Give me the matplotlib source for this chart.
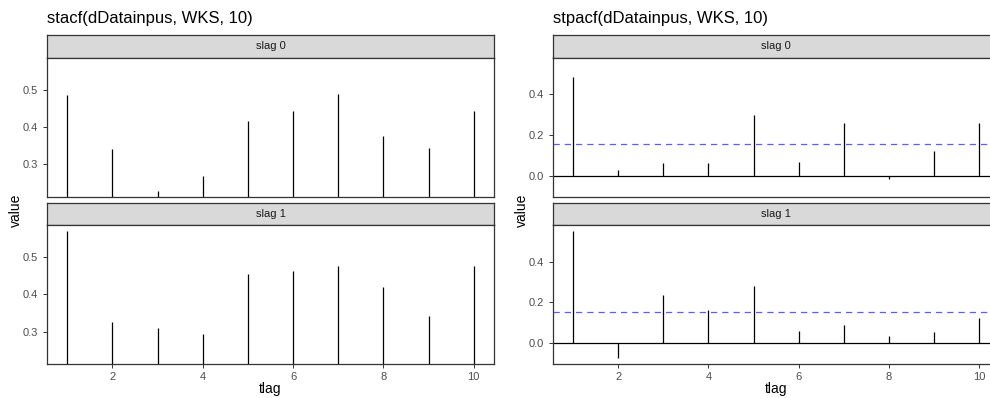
import matplotlib
matplotlib.use("Agg")
import matplotlib.pyplot as plt

plt.rcParams['font.family'] = ['Liberation Sans', 'DejaVu Sans']

# data
lags = [1, 2, 3, 4, 5, 6, 7, 8, 9, 10]
acf_slag0 = [0.485, 0.342, 0.230, 0.270, 0.417, 0.444, 0.488, 0.375, 0.345, 0.444]
acf_slag1 = [0.569, 0.326, 0.310, 0.294, 0.455, 0.462, 0.477, 0.420, 0.343, 0.477]
pacf_slag0 = [0.485, 0.030, 0.064, 0.064, 0.300, 0.069, 0.260, -0.015, 0.123, 0.260]
pacf_slag1 = [0.549, -0.071, 0.238, 0.162, 0.280, 0.060, 0.088, 0.036, 0.056, 0.126]
pacf_bound = 0.155
strip_names = ["slag 0", "slag 1"]
titles = ["stacf(dDatainpus, WKS, 10)", "stpacf(dDatainpus, WKS, 10)"]

W, H = 990, 398
GREY20 = "#333333"
GREY30 = "#4D4D4D"


def px_box(x0, y0, x1, y1):
    # pixel box (top-left origin) -> figure fraction rect
    return [x0 / W, 1 - y1 / H, (x1 - x0) / W, (y1 - y0) / H]


def expand(vals):
    lo, hi = min(vals), max(vals)
    pad = (hi - lo) * 0.05
    return lo - pad, hi + pad


def draw_chart(fig, left, right, title, series, ylim, ticks, pacf=False):
    rows = [(35, 57.5, 197), (203, 225, 364)]
    for i, (s_top, p_top, p_bot) in enumerate(rows):
        strip = fig.add_axes(px_box(left, s_top, right, p_top))
        strip.set_facecolor("#D9D9D9")
        strip.set_xticks([])
        strip.set_yticks([])
        for sp in strip.spines.values():
            sp.set_color(GREY20)
            sp.set_linewidth(0.9)
        strip.text(0.5, 0.5, strip_names[i], transform=strip.transAxes,
                   ha="center", va="center", fontsize=8, color="#1A1A1A")

        ax = fig.add_axes(px_box(left, p_top, right, p_bot))
        ax.vlines(lags, 0, series[i], color="black", lw=0.9)
        if pacf:
            ax.axhline(0, color="black", lw=0.9)
            ax.axhline(pacf_bound, color="#3333ff", lw=0.9, alpha=0.8,
                       linestyle=(0, (5, 4)))
        ax.set_xlim(0.55, 10.45)
        ax.set_ylim(*ylim)
        ax.set_yticks(ticks)
        ax.set_yticklabels([f"{t:.1f}" for t in ticks])
        ax.set_xticks([2, 4, 6, 8, 10])
        for sp in ax.spines.values():
            sp.set_color(GREY20)
            sp.set_linewidth(0.9)
        ax.tick_params(axis="y", length=2.75, width=0.7, color=GREY20,
                       labelsize=8, labelcolor=GREY30, pad=3.5)
        if i == 0:
            ax.tick_params(axis="x", length=0, labelbottom=False)
        else:
            ax.tick_params(axis="x", length=2.75, width=0.7, color=GREY20,
                           labelsize=8, labelcolor=GREY30, pad=3)
            ax.set_xlabel("tlag", fontsize=10, labelpad=0)

    fig.text(left / W, 1 - 18.5 / H, title, fontsize=12, ha="left", va="center")
    fig.text((left - 31) / W, 1 - 210 / H, "value", fontsize=10,
             rotation=90, ha="center", va="center")


fig = plt.figure(figsize=(W / 100, H / 100), dpi=100)

draw_chart(fig, 47, 494, titles[0], [acf_slag0, acf_slag1],
           expand(acf_slag0 + acf_slag1), [0.3, 0.4, 0.5])
draw_chart(fig, 552.7, 999.7, titles[1], [pacf_slag0, pacf_slag1],
           expand(pacf_slag0 + pacf_slag1), [0.0, 0.2, 0.4], pacf=True)

fig.savefig("out.png", dpi=100)
